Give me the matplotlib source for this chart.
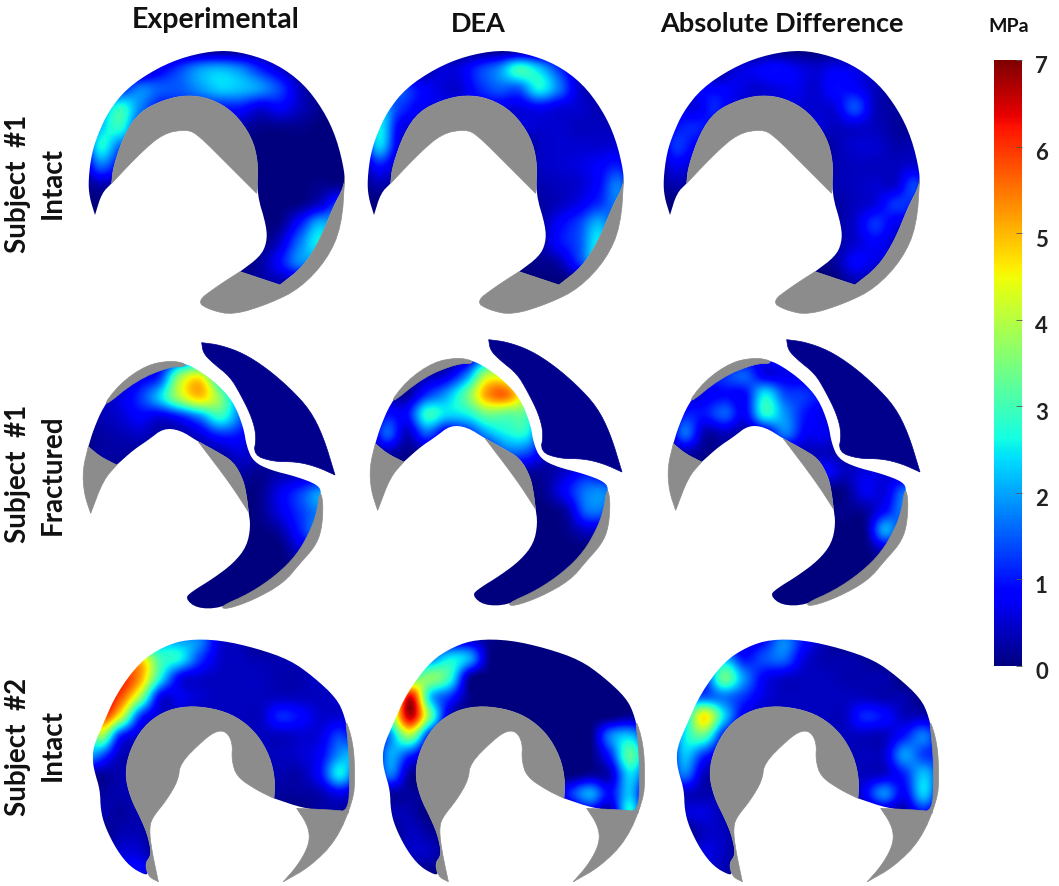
import numpy as np
import matplotlib
matplotlib.use('Agg')
import matplotlib.pyplot as plt
from matplotlib.patches import Polygon
from matplotlib.cm import ScalarMappable
from matplotlib.colors import Normalize

plt.rcParams['font.family'] = ['Lato', 'DejaVu Sans']

col_titles = ['Experimental', 'DEA', 'Absolute Difference']
row_labels = [('Subject  #1', 'Intact'), ('Subject  #1', 'Fractured'), ('Subject  #2', 'Intact')]
cbar_ticks = [0, 1, 2, 3, 4, 5, 6, 7]

# outlines, in panel units (3 units = 1 px)
stress_intact_1 = [(75,525),(75,525),(58,470),(55,420),(65,340),(85,280),(115,215),(170,145),(260,85),(350,48),(450,30),(530,40),(620,72),(700,130),(760,210),(800,295),(825,400),(822,440),(790,500),(750,600),(700,680),(630,735),(630,735),(510,695),(510,695),(570,650),(590,610),(590,560),(560,460),(565,370),(545,290),(490,215),(420,175),(350,165),(280,180),(210,215),(165,280),(130,380),(125,430),(125,430),(95,460)]
grey_intact_1 = [[(125,430),(125,430),(130,380),(165,280),(210,215),(280,180),(350,165),(420,175),(490,215),(545,290),(565,370),(560,460),(560,460),(480,380),(385,285),(350,268),(280,280),(210,340)],
                 [(825,400),(815,560),(770,660),(690,745),(600,790),(490,825),(420,810),(380,785),(440,740),(510,695),(510,695),(630,735),(630,735),(700,680),(750,600),(790,500),(822,440)]]

stress_fractured = [(55,350),(55,350),(70,300),(100,230),(150,165),(230,115),(300,98),(345,100),(385,120),(440,160),(490,215),(520,290),(530,350),(550,395),(600,420),(680,440),(745,465),(755,490),(745,550),(720,610),(680,680),(620,740),(540,795),(450,835),(380,835),(345,805),(365,785),(430,745),(490,700),(530,650),(542,590),(535,540),(530,500),(520,450),(490,395),(440,365),(385,335),(330,300),(280,295),(235,330),(190,360),(140,405),(140,405),(90,380)]
fragment_fractured = [(395,38),(395,38),(450,45),(520,70),(590,115),(660,175),(720,240),(760,320),(795,435),(795,435),(740,410),(680,395),(610,395),(550,375),(560,320),(545,260),(510,190),(480,140),(430,100),(400,70)]
grey_fractured = [[(55,350),(55,350),(90,380),(140,405),(140,405),(100,450),(62,550),(62,550),(42,490),(38,420)],
                  [(90,240),(150,160),(230,105),(300,92),(345,100),(345,110),(300,110),(200,150)],
                  [(385,335),(385,335),(440,365),(490,395),(520,450),(530,500),(535,545),(535,545),(480,460)],
                  [(750,480),(760,520),(755,600),(735,650),(690,700),(640,760),(550,810),(470,838),(450,830),(540,790),(620,735),(680,675),(720,605),(740,550)]]

stress_intact_2 = [(68,455),(70,410),(100,340),(140,250),(210,155),(280,110),(350,88),(450,90),(560,115),(660,150),(730,200),(800,265),(825,320),(840,400),(845,500),(835,610),(835,610),(790,605),(700,595),(612,565),(612,565),(615,510),(600,440),(560,370),(500,320),(430,295),(350,288),(280,305),(220,350),(180,420),(165,490),(180,560),(215,630),(235,680),(245,735),(225,760),(235,790),(225,795),(180,770),(140,720),(105,650),(92,600),(90,540),(75,490)]
grey_intact_2 = [[(350,288),(430,295),(500,320),(560,370),(600,440),(615,510),(612,565),(612,565),(560,540),(500,500),(485,450),(488,400),(470,365),(440,362),(400,390),(330,460),(325,510),(290,570),(245,625),(238,660),(245,720),(265,815),(265,815),(235,800),(225,760),(245,735),(235,680),(215,630),(180,560),(165,490),(180,420),(220,350),(280,305)],
                 [(825,320),(850,400),(855,500),(850,570),(800,690),(720,770),(640,815),(640,815),(680,770),(710,720),(720,680),(710,640),(680,595),(680,595),(790,600),(835,605),(840,500),(835,400)]]

# contact stress in MPa, 15 rows x 15 columns over each panel
exp_1 = [
 [0,0,0,0,0,0,0,0,0,0,0,0,0,0,0],
 [0,0,0,0,.7,1.3,1.9,2.1,1.8,1.1,.5,0,0,0,0],
 [0,0,.9,1.7,1.5,1.5,1.9,2.3,2.2,1.9,1.3,.4,0,0,0],
 [0,1.5,2.8,1.8,1,1,1,1,1,.6,.8,.4,.1,0,0],
 [0,2.1,2.8,1.2,1,1,1,.5,.3,.1,.1,.1,0,0,0],
 [0,2.6,1.6,1,0,0,0,0,0,0,0,0,0,0,0],
 [0,1.6,.8,0,0,0,0,0,0,0,0,0,0,0,0],
 [0,.3,.2,0,0,0,0,0,0,0,0,0,.1,.1,0],
 [0,0,0,0,0,0,0,0,0,0,0,.1,.5,1.2,0],
 [0,0,0,0,0,0,0,0,0,0,.1,1,2.1,1.5,0],
 [0,0,0,0,0,0,0,0,0,0,.5,1.7,2.5,1,0],
 [0,0,0,0,0,0,0,0,0,.2,.9,1.8,1.5,0,0],
 [0,0,0,0,0,0,0,0,.1,.2,.3,.3,0,0,0],
 [0,0,0,0,0,0,0,0,0,0,0,0,0,0,0],
 [0,0,0,0,0,0,0,0,0,0,0,0,0,0,0]]
dea_1 = [
 [0,0,0,0,0,0,0,0,0,0,0,0,0,0,0],
 [0,0,0,0,.5,.6,1.2,1.8,2.9,2.3,1.2,.3,0,0,0],
 [0,0,1.3,.9,.6,.5,1.1,1.5,1.5,2.6,1.7,.5,.2,0,0],
 [0,2,1.3,.8,.6,.6,.6,.6,.6,.8,.6,.5,.3,.1,0],
 [0,2.5,.8,.5,0,0,0,0,.5,.5,.5,.4,.4,.3,0],
 [0,2.3,.6,.3,0,0,0,0,0,.4,.5,.5,.5,.5,0],
 [0,1,.3,0,0,0,0,0,0,.4,.5,.6,.8,1,0],
 [0,.3,.1,0,0,0,0,0,0,.3,.4,.5,.9,1.7,0],
 [0,0,0,0,0,0,0,0,0,.2,.4,.7,1.2,1.6,0],
 [0,0,0,0,0,0,0,0,0,.2,.8,1.3,2.1,1,0],
 [0,0,0,0,0,0,0,0,0,.2,.9,1.4,2.5,1,0],
 [0,0,0,0,0,0,0,0,0,.1,.3,1.2,2.2,0,0],
 [0,0,0,0,0,0,0,0,0,0,0,0,0,0,0],
 [0,0,0,0,0,0,0,0,0,0,0,0,0,0,0],
 [0,0,0,0,0,0,0,0,0,0,0,0,0,0,0]]
abs_1 = [
 [0,0,0,0,0,0,0,0,0,0,0,0,0,0,0],
 [0,0,0,0,.5,.7,.9,.7,.5,.7,.6,.3,0,0,0],
 [0,0,.7,.8,.7,.5,.6,.7,.5,.9,.8,.4,.1,0,0],
 [0,.6,.6,1.1,.5,.5,.5,.5,.5,.6,1.4,.4,.2,.1,0],
 [0,.9,1.1,.7,0,0,0,0,.5,.4,.5,.4,.2,.1,0],
 [0,1.2,.8,.3,0,0,0,0,0,.3,.5,.5,.3,.3,0],
 [0,.7,.4,0,0,0,0,0,0,.3,.4,.4,.4,.5,0],
 [0,.3,.1,0,0,0,0,0,0,.3,.4,.5,.5,1.3,0],
 [0,0,0,0,0,0,0,0,0,.2,.4,.6,1.2,1,0],
 [0,0,0,0,0,0,0,0,0,.2,.5,1.2,.7,.6,0],
 [0,0,0,0,0,0,0,0,0,.2,.5,.8,.5,.3,0],
 [0,0,0,0,0,0,0,0,0,.2,.8,.6,.5,0,0],
 [0,0,0,0,0,0,0,0,0,0,.3,.2,0,0,0],
 [0,0,0,0,0,0,0,0,0,0,0,0,0,0,0],
 [0,0,0,0,0,0,0,0,0,0,0,0,0,0,0]]
exp_2 = [
 [0,0,0,0,0,0,0,0,0,0,0,0,0,0,0],
 [0,0,0,0,.5,1.2,1.5,0,0,0,0,0,0,0,0],
 [0,0,.3,.7,1.3,3.8,4.6,2.2,0,0,0,0,0,0,0],
 [0,.3,.6,1.2,2.3,3.9,4.8,3.6,1.5,0,0,0,0,0,0],
 [0,.3,.5,.8,.6,1,1.8,2.8,1.6,0,0,0,0,0,0],
 [0,.2,.3,.4,.2,.2,.5,1,.9,0,0,0,0,0,0],
 [0,.2,.2,.1,0,0,.2,.2,.5,.3,0,0,0,0,0],
 [0,0,0,0,0,0,0,0,.2,.1,.3,.4,.5,0,0],
 [0,0,0,0,0,0,0,0,0,.1,.7,1.3,2,1.9,0],
 [0,0,0,0,0,0,0,0,0,.1,.6,1.2,1.7,1,0],
 [0,0,0,0,0,0,0,0,0,0,.2,1,1.7,.5,0],
 [0,0,0,0,0,0,0,0,0,0,0,.4,.3,0,0],
 [0,0,0,0,0,0,0,0,0,0,0,0,0,0,0],
 [0,0,0,0,0,0,0,0,0,0,0,0,0,0,0],
 [0,0,0,0,0,0,0,0,0,0,0,0,0,0,0]]
dea_2 = [
 [0,0,0,0,0,0,0,0,0,0,0,0,0,0,0],
 [0,0,0,0,0,.3,1.5,1.5,0,0,0,0,0,0,0],
 [0,0,.1,.3,.6,1.8,4,3.8,1.5,0,0,0,0,0,0],
 [0,.2,.2,1.2,2,3.3,5.2,5.5,3.5,0,0,0,0,0,0],
 [0,.9,.9,2.8,2.4,2.6,3.4,3.3,3,0,0,0,0,0,0],
 [0,1.5,.4,1.5,.6,1,2,2.6,2.6,.5,0,0,0,0,0],
 [0,.3,.1,.1,0,.1,.6,1.5,1.4,.4,0,0,0,0,0],
 [0,0,0,0,0,0,0,0,.2,.2,.5,.9,.4,0,0],
 [0,0,0,0,0,0,0,0,0,.2,.9,1.7,1.7,.5,0],
 [0,0,0,0,0,0,0,0,0,0,.3,1.6,1.5,.5,0],
 [0,0,0,0,0,0,0,0,0,0,.1,.5,.4,0,0],
 [0,0,0,0,0,0,0,0,0,0,0,0,0,0,0],
 [0,0,0,0,0,0,0,0,0,0,0,0,0,0,0],
 [0,0,0,0,0,0,0,0,0,0,0,0,0,0,0],
 [0,0,0,0,0,0,0,0,0,0,0,0,0,0,0]]
abs_2 = [
 [0,0,0,0,0,0,0,0,0,0,0,0,0,0,0],
 [0,0,0,0,.5,.8,.8,.5,0,0,0,0,0,0,0],
 [0,0,.8,1.2,1.5,.7,.7,.6,.3,0,0,0,0,0,0],
 [0,.3,.7,.9,.9,2.5,1.4,1.2,.8,0,0,0,0,0,0],
 [0,1,1,1.5,.8,2.7,1.9,1,.6,0,0,0,0,0,0],
 [0,1.6,.3,.4,.2,.5,1.7,.8,.7,.2,0,0,0,0,0],
 [0,.3,.1,.1,0,0,.2,.3,.4,.2,0,0,0,0,0],
 [0,0,0,0,0,0,0,0,.8,.4,.6,.5,.2,0,0],
 [0,0,0,0,0,0,0,0,0,.1,.7,.6,1.6,1.3,0],
 [0,0,0,0,0,0,0,0,0,.1,.2,.9,1.7,.5,0],
 [0,0,0,0,0,0,0,0,0,0,.1,2,.8,0,0],
 [0,0,0,0,0,0,0,0,0,0,0,.5,.2,0,0],
 [0,0,0,0,0,0,0,0,0,0,0,0,0,0,0],
 [0,0,0,0,0,0,0,0,0,0,0,0,0,0,0],
 [0,0,0,0,0,0,0,0,0,0,0,0,0,0,0]]
exp_3 = [
 [0,0,0,0,0,0,0,0,0,0,0,0,0,0,0],
 [0,0,0,0,1.7,1.8,1.7,.5,.3,0,0,0,0,0,0],
 [0,0,4,4.6,3,2.6,1.3,.5,.4,.3,.3,.3,0,0,0],
 [0,5,6,5.2,2.7,.8,.5,.4,.4,.4,.3,.3,.4,0,0],
 [0,6,5.8,3.8,.8,.7,.5,.4,.4,.4,.4,.4,.4,.4,0],
 [0,5.6,4.4,1.3,.5,.5,.4,.4,.4,.4,1.1,.9,.5,.5,.4],
 [0,3.8,1.2,.5,.4,.4,.4,.4,.4,.4,.4,.5,.6,1.3,.5],
 [2.5,1.6,.4,.4,.4,.4,.4,.4,.4,.4,.4,.5,.8,1.9,2.2],
 [.2,.2,.3,.3,.3,.3,.3,.3,.3,.3,.3,.3,.9,2.5,1],
 [0,.2,.3,.3,.3,.3,.3,.3,.3,.3,.2,.2,.3,.7,.3],
 [0,.3,.2,.3,0,0,0,0,0,0,0,0,.2,.2,0],
 [0,0,.3,.3,0,0,0,0,0,0,0,0,0,0,0],
 [0,0,.5,.5,0,0,0,0,0,0,0,0,0,0,0],
 [0,0,.6,.8,.2,0,0,0,0,0,0,0,0,0,0],
 [0,0,0,0,0,0,0,0,0,0,0,0,0,0,0]]
dea_3 = [
 [0,0,0,0,0,0,0,0,0,0,0,0,0,0,0],
 [0,0,0,0,.3,.4,.1,0,0,0,0,0,0,0,0],
 [0,0,.8,1.6,2.5,2,.1,0,0,0,0,0,0,0,0],
 [0,.5,2.8,3.6,2.8,.2,0,0,0,0,0,0,0,0,0],
 [0,2,6.4,2.4,1.2,.1,0,0,0,0,0,0,0,0,0],
 [0,3,6.6,3.4,.4,0,0,0,0,0,0,0,0,.2,0],
 [0,1.8,3.8,1,.2,0,0,0,0,0,0,0,1.7,2.2,1],
 [0,2,1.2,.2,0,0,0,0,0,0,0,0,1.1,3.2,1.5],
 [0,1.7,.2,.1,0,0,0,0,0,0,0,.2,.4,2.4,1],
 [0,.2,.2,.1,0,0,0,0,0,0,1.1,2,.9,2.2,0],
 [0,.3,.3,0,0,0,0,0,0,0,0,.5,.2,2.5,0],
 [0,0,.4,.2,0,0,0,0,0,0,0,0,0,0,0],
 [0,0,.4,.4,0,0,0,0,0,0,0,0,0,0,0],
 [0,0,.1,.1,0,0,0,0,0,0,0,0,0,0,0],
 [0,0,0,0,0,0,0,0,0,0,0,0,0,0,0]]
abs_3 = [
 [0,0,0,0,0,0,0,0,0,0,0,0,0,0,0],
 [0,0,0,0,.4,.8,1.7,.9,.3,0,0,0,0,0,0],
 [0,0,.8,2,1,1.4,1.6,.6,.3,.3,.2,0,0,0,0],
 [0,.3,1,3.3,1.9,.8,.5,.4,.4,.3,.3,.3,0,0,0],
 [0,1.5,1.5,1.7,1.2,.6,.4,.4,.4,.4,.4,.3,.3,0,0],
 [0,2,4.6,2.4,.7,.4,.4,.4,.4,.4,1.1,.9,.4,.4,0],
 [0,2.4,3.2,1,.4,.4,.4,.4,.4,.4,.4,.4,1,1.7,.5],
 [0,2.2,1.2,.4,.3,.3,.3,.3,.3,.3,.4,.5,1.9,1.3,1],
 [0,1.7,.4,.3,.3,.3,.3,.3,.3,.3,.4,.5,1.1,2.2,1],
 [0,.4,.3,.3,0,0,0,0,0,0,.7,1.8,.8,2.3,.5],
 [0,.5,.6,.3,0,0,0,0,0,0,0,.2,.2,.9,0],
 [0,0,.4,.4,0,0,0,0,0,0,0,0,0,0,0],
 [0,0,.6,.4,0,0,0,0,0,0,0,0,0,0,0],
 [0,0,.4,.3,0,0,0,0,0,0,0,0,0,0,0],
 [0,0,0,0,0,0,0,0,0,0,0,0,0,0,0]]

grids = [[exp_1, dea_1, abs_1], [exp_2, dea_2, abs_2], [exp_3, dea_3, abs_3]]
stress = [stress_intact_1, stress_fractured, stress_intact_2]
greys = [grey_intact_1, grey_fractured, grey_intact_2]

W, H = 1059, 886
fig = plt.figure(figsize=(W/100, H/100), dpi=100)

# top left corner of each panel, px
panel_x = [[70, 349, 645], [70, 357, 655], [70, 360, 654]]
panel_y = [[40, 40, 40], [330, 327, 327], [610, 610, 610]]
norm = Normalize(0, 7)
navy = plt.get_cmap('jet')(norm(0.1))


def rounded(points, passes=2):
    # corner cutting so the outlines are not faceted, doubled points stay sharp
    pts = np.array(points, dtype=float)
    for _ in range(passes):
        nxt = np.roll(pts, -1, axis=0)
        pts = np.column_stack([0.75*pts + 0.25*nxt, 0.25*pts + 0.75*nxt]).reshape(-1, 2)
    return pts


for r in range(3):
    for c in range(3):
        ax = fig.add_axes([panel_x[r][c]/W, 1-(panel_y[r][c]+290)/H, 300/W, 290/H])
        ax.patch.set_alpha(0)
        for g in greys[r]:
            ax.add_patch(Polygon(rounded(g), closed=True, fc='#8c8c8c', ec='#8c8c8c', lw=0.5))
        if r == 1:
            ax.add_patch(Polygon(rounded(fragment_fractured), closed=True, fc=navy, ec=navy, lw=0.5))
        im = ax.imshow(np.array(grids[r][c], dtype=float), cmap='jet', norm=norm, extent=(0, 900, 870, 0),
                       interpolation='catrom', aspect='auto')
        clip = Polygon(rounded(stress[r]), closed=True, transform=ax.transData, fc='none', ec='none')
        ax.add_patch(clip)
        im.set_clip_path(clip)
        ax.set_xlim(0, 900)
        ax.set_ylim(870, 0)
        ax.axis('off')


def px_text(x, y, s, **kw):
    fig.text(x/W, 1-y/H, s, ha='center', va='center', fontweight='bold', color='#111111', **kw)


px_text(216, 20, col_titles[0], fontsize=20.5)
px_text(478, 24, col_titles[1], fontsize=19.5)
px_text(782, 24, col_titles[2], fontsize=19.5)
px_text(1009, 26, 'MPa', fontsize=14)

for (top, bottom), y1, y2 in zip(row_labels, [184, 474, 747], [183, 475, 745]):
    px_text(18, y1, top, fontsize=20, rotation=90)
    px_text(53, y2, bottom, fontsize=20, rotation=90)

# colour bar
cax = fig.add_axes([994/W, 1-666/H, 28/W, 606/H])
cb = fig.colorbar(ScalarMappable(norm=norm, cmap='jet'), cax=cax)
cb.set_ticks(cbar_ticks)
cb.outline.set_visible(False)
cax.tick_params(axis='y', direction='in', length=4, width=0.6, color='#555555', labelright=False)
for v in cbar_ticks:
    cax.annotate(str(v), (1, v), xycoords=('axes fraction', 'data'), xytext=(14, -5), textcoords='offset points',
                 ha='center', va='center', fontsize=16, fontweight='bold', color='#222222', annotation_clip=False)

fig.savefig('out.png', dpi=100)
